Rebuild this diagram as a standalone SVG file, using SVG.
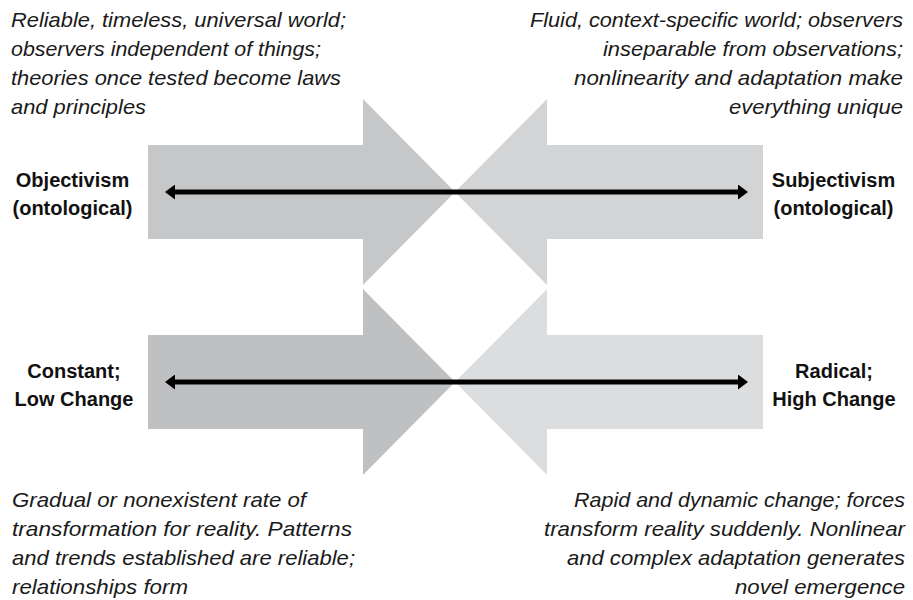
<svg xmlns="http://www.w3.org/2000/svg" width="913" height="600" viewBox="0 0 913 600">
<style>
.desc{font-family:"Liberation Sans",Arial,sans-serif;font-style:italic;font-size:21px;fill:#1a1a1a}
.lbl{font-family:"Liberation Sans",Arial,sans-serif;font-weight:bold;font-size:20px;fill:#111;text-anchor:middle}
.end{text-anchor:end}
.conn{stroke:#000;stroke-width:5;fill:none;marker-start:url(#ah);marker-end:url(#ah)}
</style>
<defs>
<marker id="ah" markerUnits="userSpaceOnUse" markerWidth="10" markerHeight="15" refX="2" refY="7.5" orient="auto-start-reverse">
<path d="M0,0 L10,7.5 L0,15 z" fill="#000"/>
</marker>
</defs>
<rect width="913" height="600" fill="#fff"/>
<g id="arrow-objectivism"><polygon points="148,145 363,145 363,99 455,192 363,285 363,239 148,239" fill="#c6c7c9"/></g>
<g id="arrow-subjectivism"><polygon points="763,145 547,145 547,99 455,192 547,285 547,239 763,239" fill="#d3d4d6"/></g>
<g id="arrow-constant"><polygon points="148,335 363,335 363,289 455,382 363,475 363,429 148,429" fill="#bfc0c2"/></g>
<g id="arrow-radical"><polygon points="763,335 547,335 547,289 455,382 547,475 547,429 763,429" fill="#dcdddf"/></g>
<g id="connectors">
<path class="conn" d="M173,192 H740"/>
<path class="conn" d="M173,382 H740"/>
</g>
<g id="label-objectivism"><text class="lbl" x="72.5" y="187">Objectivism</text><text class="lbl" x="72.5" y="215">(ontological)</text></g>
<g id="label-subjectivism"><text class="lbl" x="833.5" y="187">Subjectivism</text><text class="lbl" x="833.5" y="215">(ontological)</text></g>
<g id="label-constant"><text class="lbl" x="74" y="378">Constant;</text><text class="lbl" x="74" y="406">Low Change</text></g>
<g id="label-radical"><text class="lbl" x="834" y="378">Radical;</text><text class="lbl" x="834" y="406">High Change</text></g>
<g id="desc-objectivism">
<text class="desc" x="11" y="27" textLength="335" lengthAdjust="spacingAndGlyphs">Reliable, timeless, universal world;</text>
<text class="desc" x="11" y="56" textLength="310" lengthAdjust="spacingAndGlyphs">observers independent of things;</text>
<text class="desc" x="11" y="85" textLength="330" lengthAdjust="spacingAndGlyphs">theories once tested become laws</text>
<text class="desc" x="11" y="114" textLength="135" lengthAdjust="spacingAndGlyphs">and principles</text>
</g>
<g id="desc-subjectivism">
<text class="desc end" x="903" y="27" textLength="373" lengthAdjust="spacingAndGlyphs">Fluid, context-specific world; observers</text>
<text class="desc end" x="903" y="56" textLength="300" lengthAdjust="spacingAndGlyphs">inseparable from observations;</text>
<text class="desc end" x="903" y="85" textLength="329" lengthAdjust="spacingAndGlyphs">nonlinearity and adaptation make</text>
<text class="desc end" x="903" y="114" textLength="174" lengthAdjust="spacingAndGlyphs">everything unique</text>
</g>
<g id="desc-constant">
<text class="desc" x="12" y="507" textLength="294" lengthAdjust="spacingAndGlyphs">Gradual or nonexistent rate of</text>
<text class="desc" x="12" y="536" textLength="340" lengthAdjust="spacingAndGlyphs">transformation for reality. Patterns</text>
<text class="desc" x="12" y="565" textLength="343" lengthAdjust="spacingAndGlyphs">and trends established are reliable;</text>
<text class="desc" x="12" y="594" textLength="176" lengthAdjust="spacingAndGlyphs">relationships form</text>
</g>
<g id="desc-radical">
<text class="desc end" x="905" y="507" textLength="331" lengthAdjust="spacingAndGlyphs">Rapid and dynamic change; forces</text>
<text class="desc end" x="905" y="536" textLength="361" lengthAdjust="spacingAndGlyphs">transform reality suddenly. Nonlinear</text>
<text class="desc end" x="905" y="565" textLength="338" lengthAdjust="spacingAndGlyphs">and complex adaptation generates</text>
<text class="desc end" x="905" y="594" textLength="170" lengthAdjust="spacingAndGlyphs">novel emergence</text>
</g>
</svg>
